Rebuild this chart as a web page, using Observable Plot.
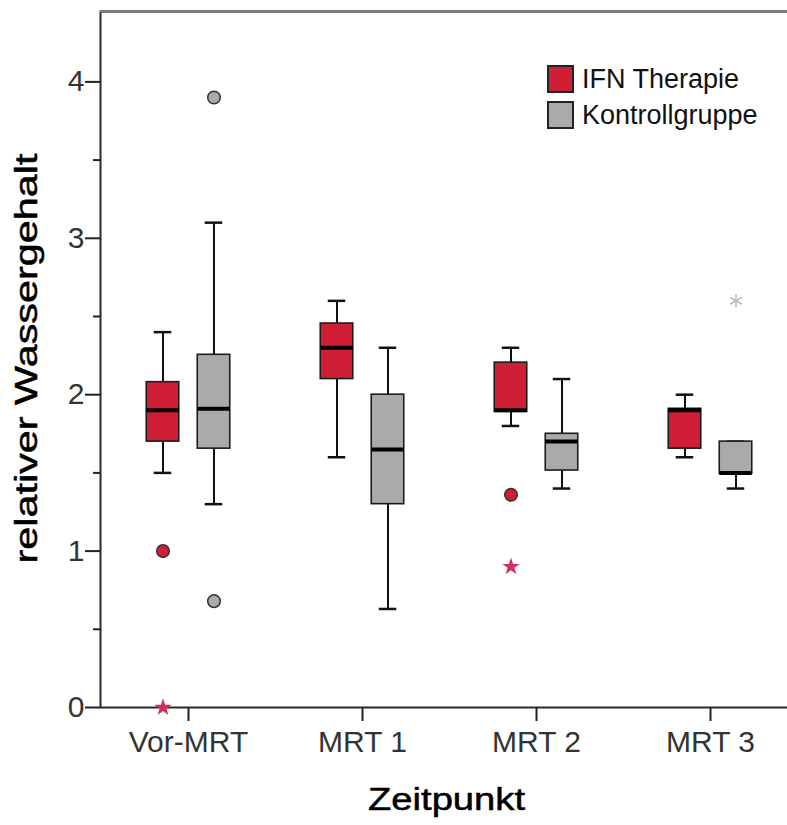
<!DOCTYPE html>
<html><head><meta charset="utf-8">
<script src="https://cdn.jsdelivr.net/npm/d3@7"></script>
<script src="https://cdn.jsdelivr.net/npm/@observablehq/plot@0.6"></script>
<style>
body{margin:0;background:#fff;}
#wrap{position:relative;width:787px;height:825px;overflow:hidden;}
.legend{position:absolute;left:547px;top:61px;font-family:"Liberation Sans",Arial,sans-serif;font-size:27px;color:#111;}
.legend .item{display:flex;align-items:center;height:36px;}
.legend .sw{width:23px;height:24px;border:2px solid #222;margin-right:8px;box-sizing:content-box;}
</style></head><body><div id="wrap"></div>
<script>
const timepoints = ["Vor-MRT", "MRT 1", "MRT 2", "MRT 3"];
const groups = ["IFN Therapie", "Kontrollgruppe"];
const groupColors = ["#cf1f36", "#aaaaaa"];

// box-plot summaries, one value per timepoint
const ifnLow    = [1.50, 1.60, 1.80, 1.60];
const ifnQ1     = [1.70, 2.10, 1.89, 1.655];
const ifnMedian = [1.90, 2.30, 1.90, 1.90];
const ifnQ3     = [2.08, 2.455, 2.205, 1.91];
const ifnHigh   = [2.40, 2.60, 2.30, 2.00];

const kgLow     = [1.30, 0.63, 1.40, 1.40];
const kgQ1      = [1.655, 1.30, 1.515, 1.495];
const kgMedian  = [1.91, 1.65, 1.70, 1.50];
const kgQ3      = [2.255, 2.00, 1.75, 1.70];
const kgHigh    = [3.10, 2.30, 2.10, 1.70];

// outliers (circles) and extreme values (stars)
const outlierTime  = ["Vor-MRT", "Vor-MRT", "Vor-MRT", "MRT 2"];
const outlierGroup = ["IFN Therapie", "Kontrollgruppe", "Kontrollgruppe", "IFN Therapie"];
const outlierValue = [1.00, 3.90, 0.68, 1.36];
const extremeTime  = ["Vor-MRT", "MRT 2", "MRT 3"];
const extremeGroup = ["IFN Therapie", "IFN Therapie", "Kontrollgruppe"];
const extremeValue = [0.00, 0.90, 2.60];

const majorTicks = [0, 1, 2, 3, 4];
const minorTicks = [0.5, 1.5, 2.5, 3.5];
const yMax = 4.45;
const xTitle = "Zeitpunkt";
const yTitle = "relativer Wassergehalt";

// build tables
const boxes = timepoints.flatMap((t, i) => [
  {time: t, group: groups[0], low: ifnLow[i], q1: ifnQ1[i], median: ifnMedian[i], q3: ifnQ3[i], high: ifnHigh[i]},
  {time: t, group: groups[1], low: kgLow[i], q1: kgQ1[i], median: kgMedian[i], q3: kgQ3[i], high: kgHigh[i]}
]);
const outliers = outlierTime.map((t, i) => ({time: t, group: outlierGroup[i], value: outlierValue[i]}));
const extremes = extremeTime.map((t, i) => ({time: t, group: extremeGroup[i], value: extremeValue[i]}));

const W = 787, H = 825, mL = 100, mR = -11, mT = 11, mB = 118;
const bw = (W - mL - mR) / timepoints.length;
const boxW = 33, capW = 18, off = 25.5;
const inBox = (bw - boxW) / 2, inCap = (bw - capW) / 2;

const marks = [];
groups.forEach((g, gi) => {
  const d = boxes.filter(b => b.group === g);
  const dx = gi === 0 ? -off : off;
  marks.push(
    Plot.ruleX(d, {x: "time", y1: "low", y2: "q1", dx, stroke: "#111", strokeWidth: 2}),
    Plot.ruleX(d, {x: "time", y1: "q3", y2: "high", dx, stroke: "#111", strokeWidth: 2}),
    Plot.tickY(d, {x: "time", y: "low", dx, insetLeft: inCap, insetRight: inCap, stroke: "#111", strokeWidth: 2.5}),
    Plot.tickY(d, {x: "time", y: "high", dx, insetLeft: inCap, insetRight: inCap, stroke: "#111", strokeWidth: 2.5}),
    Plot.barY(d, {x: "time", y1: "q1", y2: "q3", dx, insetLeft: inBox, insetRight: inBox, fill: "group", stroke: "#1c1c1c", strokeWidth: 1.6}),
    Plot.tickY(d, {x: "time", y: "median", dx, insetLeft: inBox, insetRight: inBox, stroke: "#000", strokeWidth: 4}),
    Plot.dot(outliers.filter(o => o.group === g), {x: "time", y: "value", dx, r: 6.3, fill: "group", stroke: "#333", strokeWidth: 1.5})
  );
  const ex = extremes.filter(o => o.group === g);
  if (gi === 0) {
    marks.push(Plot.dot(ex, {x: "time", y: "value", dx, symbol: "star", r: 5.5, fill: "#d2305a", stroke: "none"}));
  } else {
    marks.push(Plot.dot(ex, {x: "time", y: "value", dx, symbol: "asterisk", r: 6.5, stroke: "#bcbcbc", strokeWidth: 1.6}));
  }
});

const chart = Plot.plot({
  width: W, height: H,
  marginLeft: mL, marginRight: mR, marginTop: mT, marginBottom: mB,
  style: {fontFamily: "'Liberation Sans', Arial, sans-serif", color: "#222", background: "#fff", overflow: "hidden"},
  x: {domain: timepoints, padding: 0},
  y: {domain: [0, yMax]},
  color: {domain: groups, range: groupColors},
  marks: [
    Plot.frame({stroke: "#2a2a2a", strokeWidth: 2}),
    Plot.ruleY([yMax], {stroke: "#7a7a7a", strokeWidth: 2.6}),
    Plot.axisY(majorTicks, {tickSize: 15, tickPadding: 1, fontSize: 30, strokeWidth: 2, label: null, fill: "#333", tickFormat: d => String(d)}),
    Plot.axisY(minorTicks, {tickSize: 7, tickFormat: () => "", strokeWidth: 2, label: null}),
    Plot.axisX({tickSize: 14, tickPadding: 9, fontSize: 30, strokeWidth: 2, label: null, fill: "#333"}),
    ...marks,
    Plot.text([xTitle], {text: d => d, frameAnchor: "bottom", textAnchor: "middle", lineAnchor: "bottom", dx: -3, dy: 102, fontSize: 31, fill: "#000", stroke: "#000", strokeWidth: 0.5}),
    Plot.text([yTitle], {text: d => d, frameAnchor: "left", textAnchor: "middle", lineAnchor: "middle", rotate: -90, dx: -73, dy: -1, fontSize: 31, fill: "#000", stroke: "#000", strokeWidth: 0.5})
  ]
});

d3.select(chart).selectAll("text").each(function() {
  const t = this.textContent;
  if (t === xTitle) d3.select(this).attr("textLength", 157).attr("lengthAdjust", "spacingAndGlyphs");
  if (t === yTitle) d3.select(this).attr("textLength", 410).attr("lengthAdjust", "spacingAndGlyphs");
});

const wrap = document.getElementById("wrap");
wrap.appendChild(chart);

const legend = document.createElement("div");
legend.className = "legend";
groups.forEach((g, i) => {
  const item = document.createElement("div");
  item.className = "item";
  const sw = document.createElement("div");
  sw.className = "sw";
  sw.style.background = groupColors[i];
  const label = document.createElement("span");
  label.textContent = g;
  item.appendChild(sw);
  item.appendChild(label);
  legend.appendChild(item);
});
wrap.appendChild(legend);
</script></body></html>
